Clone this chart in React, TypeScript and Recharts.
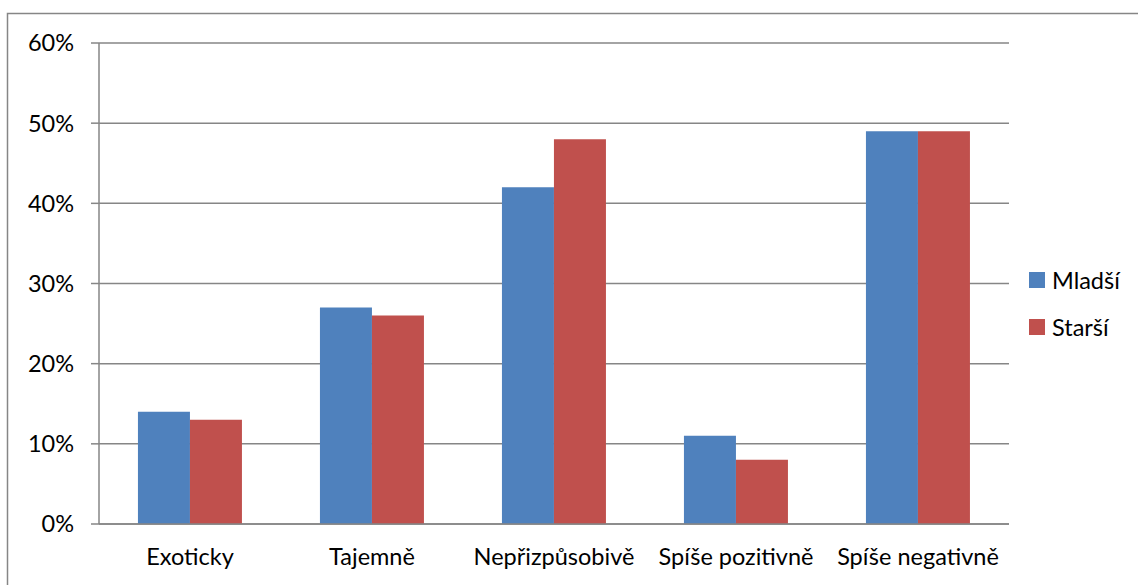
import React from 'react';
import { BarChart, Bar, XAxis, YAxis, CartesianGrid, Legend } from 'recharts';

const categories = ['Exoticky', 'Tajemně', 'Nepřizpůsobivě', 'Spíše pozitivně', 'Spíše negativně'];
const mladsi = [14, 27, 42, 11, 49];
const starsi = [13, 26, 48, 8, 49];
const yTicks = [0, 10, 20, 30, 40, 50, 60];
const edgeTicks = [0, 1, 2, 3, 4, 5];

const SERIES = [
  { key: 'Mladší', color: '#4F81BD' },
  { key: 'Starší', color: '#C0504D' },
];

const FONT = 'Lato, "Open Sans", sans-serif';
const FONT_SIZE = 23.5;
const GRID = '#868686';

const data = categories.map((name, i) => ({
  name,
  idx: i + 0.5,
  'Mladší': mladsi[i],
  'Starší': starsi[i],
}));

// legend drawn as a simple stacked list beside the plot
const LegendBox = () => (
  <div style={{ fontFamily: FONT, fontSize: FONT_SIZE, color: '#000' }}>
    {SERIES.map((s) => (
      <div key={s.key} style={{ display: 'flex', alignItems: 'center', height: 47 }}>
        <span style={{ width: 16, height: 16, background: s.color, marginRight: 7, display: 'inline-block' }} />
        {s.key}
      </div>
    ))}
  </div>
);

export default function App() {
  return (
    <div style={{ position: 'absolute', left: 0, top: 0, width: 1138, height: 585, background: '#fff' }}>
      <svg width={1138} height={585} style={{ position: 'absolute', left: 0, top: 0 }}>
        <path d="M7.5 585 L7.5 13.5 L1138 13.5" fill="none" stroke={GRID} strokeWidth={1.5} />
      </svg>
      <div style={{ position: 'absolute', left: 0, top: 0 }}>
        <BarChart
          width={1138}
          height={585}
          data={data}
          margin={{ top: 43, right: 129, bottom: 0, left: 0 }}
          barCategoryGap="21.4%"
          barGap={0}
        >
          <CartesianGrid vertical={false} stroke={GRID} strokeWidth={1.5} />
          {/* numeric helper axis: tick marks between categories, like Excel */}
          <XAxis
            dataKey="idx"
            xAxisId="edge"
            type="number"
            domain={[0, 5]}
            ticks={edgeTicks}
            height={0}
            tick={false}
            tickSize={9}
            axisLine={false}
            tickLine={{ stroke: GRID, strokeWidth: 1.5 }}
            orientation="bottom"
          />
          <XAxis
            dataKey="name"
            xAxisId="cat"
            height={61}
            interval={0}
            tickLine={false}
            axisLine={{ stroke: GRID, strokeWidth: 1.5 }}
            tickMargin={18}
            tick={{ fill: '#000', fontSize: FONT_SIZE, fontFamily: FONT }}
          />
          <YAxis
            width={99}
            domain={[0, 60]}
            ticks={yTicks}
            tickFormatter={(v: number) => `${v}%`}
            tickSize={8}
            tickMargin={17}
            axisLine={{ stroke: GRID, strokeWidth: 1.5 }}
            tickLine={{ stroke: GRID, strokeWidth: 1.5 }}
            tick={{ fill: '#000', fontSize: FONT_SIZE, fontFamily: FONT }}
          />
          <Legend
            layout="horizontal"
            verticalAlign="middle"
            align="center"
            content={() => <LegendBox />}
            wrapperStyle={{ left: 1029, top: 256, width: 110 }}
          />
          {SERIES.map((s) => (
            <Bar key={s.key} xAxisId="cat" dataKey={s.key} fill={s.color} isAnimationActive={false} />
          ))}
        </BarChart>
      </div>
    </div>
  );
}
